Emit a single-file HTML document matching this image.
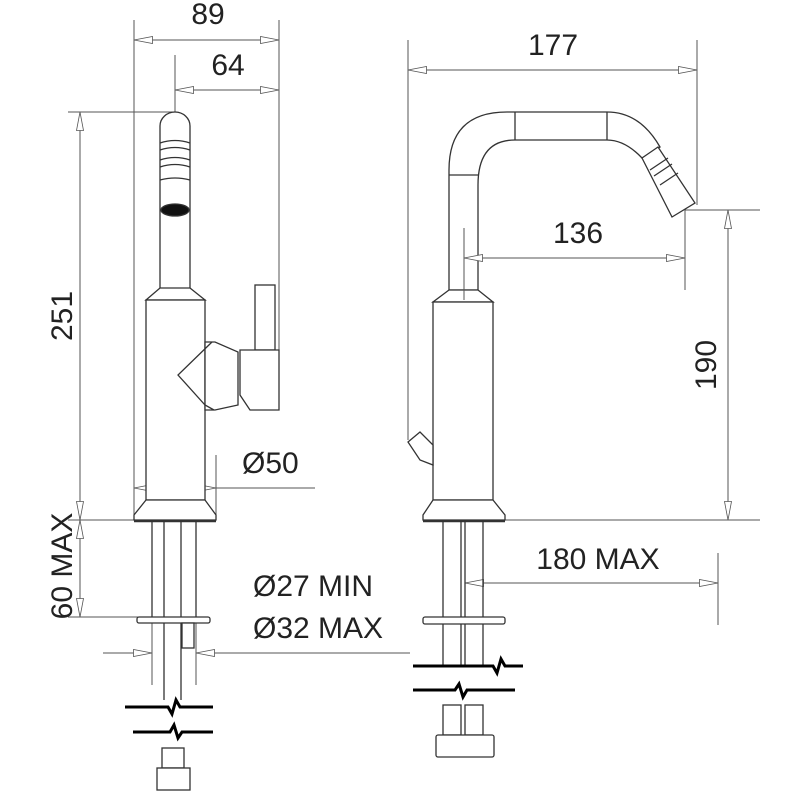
<!DOCTYPE html>
<html><head><meta charset="utf-8"><style>
html,body{margin:0;padding:0;background:#fff}
svg{display:block}
text{font-family:"Liberation Sans",Arial,sans-serif;fill:#222;font-size:30px}
</style></head><body>
<svg width="800" height="800" viewBox="0 0 800 800" xmlns="http://www.w3.org/2000/svg">
<defs>
<marker id="a" viewBox="0 0 20 8" refX="19.5" refY="4" markerWidth="20" markerHeight="8" markerUnits="userSpaceOnUse" orient="auto-start-reverse">
<path d="M19.5,4 L1,0.5 L1,7.5 Z" fill="#fff" stroke="#555" stroke-width="0.8"/>
</marker>
</defs>
<g stroke="#555" stroke-width="1" fill="none">
<line x1="134" y1="20" x2="134" y2="520"/>
<line x1="279" y1="20" x2="279" y2="410"/>
<line x1="134" y1="40" x2="279" y2="40" marker-start="url(#a)" marker-end="url(#a)"/>
<line x1="175" y1="55" x2="175" y2="112"/>
<line x1="175" y1="90" x2="279" y2="90" marker-start="url(#a)" marker-end="url(#a)"/>
<line x1="68" y1="112" x2="175" y2="112"/>
<line x1="68" y1="520" x2="135" y2="520"/>
<line x1="80" y1="112" x2="80" y2="520" marker-start="url(#a)" marker-end="url(#a)"/>
<line x1="80" y1="520" x2="80" y2="617" marker-start="url(#a)" marker-end="url(#a)"/>
<line x1="68" y1="617" x2="140" y2="617"/>
<line x1="134" y1="488" x2="216" y2="488" marker-start="url(#a)" marker-end="url(#a)"/>
<line x1="216" y1="488" x2="315" y2="488"/>
<line x1="216" y1="455" x2="216" y2="520"/>
<line x1="103" y1="653" x2="152" y2="653" marker-end="url(#a)"/>
<line x1="196" y1="653" x2="410" y2="653" marker-start="url(#a)"/>
<line x1="152" y1="610" x2="152" y2="685"/>
<line x1="196" y1="610" x2="196" y2="685"/>
<line x1="408" y1="40" x2="408" y2="440"/>
<line x1="697" y1="40" x2="697" y2="205"/>
<line x1="408" y1="70" x2="697" y2="70" marker-start="url(#a)" marker-end="url(#a)"/>
<line x1="685" y1="210" x2="685" y2="290"/>
<line x1="685" y1="210" x2="760" y2="210"/>
<line x1="500" y1="520" x2="760" y2="520"/>
<line x1="728" y1="210" x2="728" y2="520" marker-start="url(#a)" marker-end="url(#a)"/>
<line x1="465" y1="583" x2="718" y2="583" marker-start="url(#a)" marker-end="url(#a)"/>
<line x1="718" y1="553" x2="718" y2="625"/>
</g>
<g stroke="#333" stroke-width="1.3" fill="#fff">
<path d="M160,300 L160,126 A15,14 0 0 1 190,126 L190,300"/>
<path d="M160,143 Q175,138 190,143 M160,150 Q175,145 190,150 M160,160 Q175,155 190,160 M160,167 Q175,162 190,167 M160,180 Q175,176 190,180" fill="none"/>
<ellipse cx="175" cy="210" rx="14" ry="6" fill="#111"/>
<path d="M160,288 L190,288 L205,300 L146,300 Z"/>
<rect x="146" y="300" width="59" height="200"/>
<rect x="255" y="285" width="20" height="65"/>
<path d="M205,342 L215,342 L238,352 L238,405 L215,410 L205,410 Z"/>
<path d="M212,342 L178,375 L205,405 L214,410" fill="none"/>
<path d="M240,350 L279,350 L279,410 L250,410 L240,395 Z"/>
<path d="M146,500 L205,500 L216,515 L216,520 L134,520 L134,515 Z"/>
<line x1="134" y1="521" x2="216" y2="521" stroke-width="2.5"/>
<line x1="152" y1="521" x2="152" y2="617"/><line x1="164" y1="521" x2="164" y2="700"/>
<line x1="181" y1="521" x2="181" y2="700"/><line x1="196" y1="521" x2="196" y2="617"/>
<rect x="137" y="617" width="73" height="6" rx="2"/>
<rect x="182" y="623" width="12" height="25"/>
<rect x="162" y="748" width="22" height="20"/>
<rect x="157" y="768" width="33" height="22"/>
<path d="M449,290 L449,170 Q449,112 507,112 L607,112 Q640,112 660,147 L642,158 Q625,140 607,140 L515,140 Q478,140 478,185 L478,290 Z"/>
<path d="M642,158 L658,147 L695,203 L672,217 Z"/>
<path d="M650,170 L668,158 M654,176 L672,164 M660,185 L678,173" fill="none"/>
<line x1="515" y1="112" x2="515" y2="140"/><line x1="607" y1="112" x2="607" y2="140"/>
<line x1="449" y1="175" x2="478" y2="175"/>
<path d="M449,290 L478,290 L493,302 L433,302 Z"/>
<rect x="433" y="302" width="60" height="198"/>
<path d="M408,442 L420,432 L433,445 L433,465 L420,460 Z"/>
<path d="M433,500 L493,500 L505,515 L505,520 L423,520 L423,515 Z"/>
<line x1="423" y1="521" x2="505" y2="521" stroke-width="2.5"/>
<line x1="443" y1="521" x2="443" y2="665"/><line x1="461" y1="521" x2="461" y2="665"/>
<line x1="465" y1="521" x2="465" y2="665"/><line x1="483" y1="521" x2="483" y2="665"/>
<rect x="423" y="617" width="82" height="7" rx="2"/>
<rect x="443" y="705" width="18" height="30"/><rect x="465" y="705" width="18" height="30"/>
<rect x="436" y="735" width="58" height="22" rx="2"/>
</g>
<g stroke="#555" stroke-width="1" fill="none">
<line x1="464" y1="228" x2="464" y2="300"/>
<line x1="464" y1="258" x2="685" y2="258" marker-start="url(#a)" marker-end="url(#a)"/>
</g>
<g stroke="#000" stroke-width="3" fill="none">
<path d="M125,707 L168,707 L172,714 L176,700 L180,707 L213,707"/>
<path d="M133,732 L170,732 L174,725 L178,738 L182,732 L213,732"/>
<path d="M413,666 L493,666 L497,673 L501,659 L505,666 L523,666"/>
<path d="M413,690 L455,690 L459,684 L463,697 L467,690 L515,690"/>
</g>
<text x="208" y="24" text-anchor="middle">89</text>
<text x="228" y="75" text-anchor="middle">64</text>
<text transform="translate(72,316) rotate(-90)" text-anchor="middle">251</text>
<text transform="translate(72,566) rotate(-90)" text-anchor="middle" font-size="28">60 MAX</text>
<text x="242" y="473">Ø50</text>
<text x="253" y="596">Ø27 MIN</text>
<text x="253" y="638">Ø32 MAX</text>
<text x="553" y="55" text-anchor="middle">177</text>
<text x="578" y="243" text-anchor="middle">136</text>
<text transform="translate(716,365) rotate(-90)" text-anchor="middle">190</text>
<text x="598" y="569" text-anchor="middle">180 MAX</text>
</svg>
</body></html>
